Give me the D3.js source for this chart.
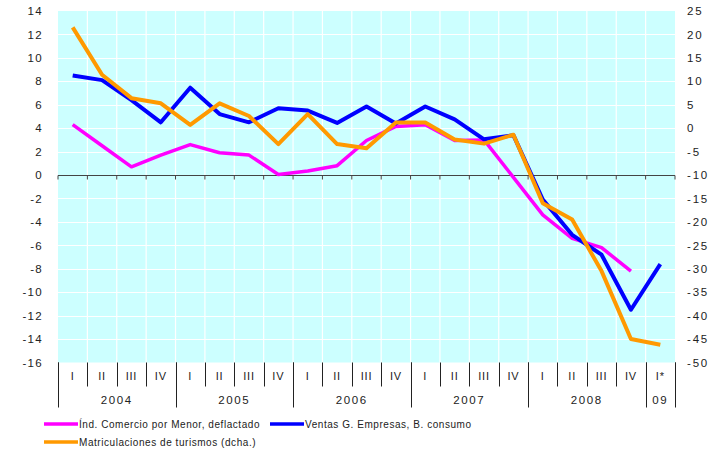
<!DOCTYPE html>
<html>
<head>
<meta charset="utf-8">
<script src="https://cdn.jsdelivr.net/npm/d3@7"></script>
<style>
  body { margin: 0; background: #fff; }
  text { font-family: "Liberation Sans", Arial, sans-serif; fill: #222; }
</style>
</head>
<body>
<div id="chart"></div>
<script>
// quarter labels and year groups
const quarters = ["I","II","III","IV","I","II","III","IV","I","II","III","IV",
                  "I","II","III","IV","I","II","III","IV","I*"];
const years = ["2004","2005","2006","2007","2008","09"];
const yearSpans = [4, 4, 4, 4, 4, 1];

// left axis series
const comercio = [4.3, 2.5, 0.7, 1.7, 2.6, 1.9, 1.7, 0.05, 0.35, 0.8, 2.95, 4.15,
                  4.3, 2.95, 3.0, -0.2, -3.4, -5.4, -6.2, -8.2, null];
const ventas = [8.5, 8.1, 6.4, 4.5, 7.45, 5.2, 4.5, 5.7, 5.5, 4.45, 5.85, 4.4,
                5.85, 4.75, 3.05, 3.4, -2.1, -5.1, -6.8, -11.5, -7.6];
// right axis series
const matriculaciones = [21.5, 11.4, 6.4, 5.3, 0.7, 5.3, 2.6, -3.4, 3.0, -3.4, -4.3, 1.2,
                         1.2, -2.4, -3.3, -1.4, -16.0, -19.5, -30.5, -45.0, -46.2];

const leftTicks = d3.range(-16, 15, 2);
const rightTicks = d3.range(-50, 26, 5);

const W = 714, H = 451;
const margin = { top: 11, right: 39, bottom: 88.5, left: 58 };

const svg = d3.select("#chart").append("svg")
  .attr("width", W).attr("height", H);

const x = d3.scaleBand()
  .domain(d3.range(quarters.length))
  .range([margin.left, W - margin.right]);

const yL = d3.scaleLinear().domain([-16, 14]).range([H - margin.bottom, margin.top]);
const yR = d3.scaleLinear().domain([-50, 25]).range([H - margin.bottom, margin.top]);

// plot background
svg.append("rect")
  .attr("x", x.range()[0]).attr("y", margin.top)
  .attr("width", x.range()[1] - x.range()[0])
  .attr("height", H - margin.bottom - margin.top)
  .attr("fill", "#ccffff");

// grid
const bounds = d3.range(quarters.length + 1).map(i => margin.left + i * x.step());
svg.append("g").selectAll("line").data(leftTicks.slice(1, -1)).join("line")
  .attr("x1", x.range()[0]).attr("x2", x.range()[1])
  .attr("y1", d => Math.round(yL(d)) + 0.5).attr("y2", d => Math.round(yL(d)) + 0.5)
  .attr("stroke", "#fff").attr("stroke-width", 1.2);
svg.append("g").selectAll("line").data(bounds.slice(1, -1)).join("line")
  .attr("x1", d => d).attr("x2", d => d)
  .attr("y1", margin.top).attr("y2", H - margin.bottom)
  .attr("stroke", "#fff").attr("stroke-width", 1.2);

// zero line with ticks
const y0 = Math.round(yL(0)) + 0.5;
svg.append("line")
  .attr("x1", x.range()[0]).attr("x2", x.range()[1])
  .attr("y1", y0).attr("y2", y0)
  .attr("stroke", "#444").attr("stroke-width", 1.2);
svg.append("g").selectAll("line").data(bounds).join("line")
  .attr("x1", d => d).attr("x2", d => d)
  .attr("y1", y0).attr("y2", y0 + 4)
  .attr("stroke", "#444").attr("stroke-width", 1);

// y axes
const axL = svg.append("g")
  .attr("transform", `translate(${margin.left},0)`)
  .call(d3.axisLeft(yL).tickValues(leftTicks).tickSize(0).tickPadding(15).tickFormat(d => d));
axL.select(".domain").remove();
axL.selectAll("text").style("font-size", "11.5px").style("letter-spacing", "1.3px")
  .style("font-family", "'Liberation Sans', Arial, sans-serif").attr("fill", "#222");

const axR = svg.append("g")
  .attr("transform", `translate(${W - margin.right},0)`)
  .call(d3.axisRight(yR).tickValues(rightTicks).tickSize(0).tickPadding(12).tickFormat(d => d));
axR.select(".domain").remove();
axR.selectAll("text").style("font-size", "11.5px").style("letter-spacing", "1.8px")
  .style("font-family", "'Liberation Sans', Arial, sans-serif").attr("fill", "#222");

// category table under the plot
const bottom = H - margin.bottom;
svg.append("g").selectAll("line").data(bounds).join("line")
  .attr("x1", d => Math.round(d) + 0.5).attr("x2", d => Math.round(d) + 0.5)
  .attr("y1", bottom).attr("y2", bottom + 24)
  .attr("stroke", "#222").attr("stroke-width", 1);
svg.append("g").selectAll("text").data(quarters).join("text")
  .attr("x", (d, i) => x(i) + x.bandwidth() / 2)
  .attr("y", bottom + 17)
  .attr("text-anchor", "middle")
  .style("font-size", "11px").style("letter-spacing", "0.8px")
  .text(d => d);

let start = 0;
const yearPos = years.map((yr, k) => {
  const s = start, e = start + yearSpans[k];
  start = e;
  return { yr, s, e };
});
svg.append("g").selectAll("line").data([0].concat(yearPos.map(d => d.e))).join("line")
  .attr("x1", d => Math.round(margin.left + d * x.step()) + 0.5)
  .attr("x2", d => Math.round(margin.left + d * x.step()) + 0.5)
  .attr("y1", bottom).attr("y2", bottom + 45)
  .attr("stroke", "#222").attr("stroke-width", 1);
svg.append("g").selectAll("text").data(yearPos).join("text")
  .attr("x", d => margin.left + (d.s + d.e) / 2 * x.step())
  .attr("y", bottom + 41)
  .attr("text-anchor", "middle")
  .style("font-size", "11.5px").style("letter-spacing", "1.6px")
  .text(d => d.yr);

// lines
const lineL = d3.line()
  .defined(d => d != null)
  .x((d, i) => x(i) + x.bandwidth() / 2)
  .y(d => yL(d));
const lineR = d3.line()
  .defined(d => d != null)
  .x((d, i) => x(i) + x.bandwidth() / 2)
  .y(d => yR(d));

svg.append("path").datum(comercio).attr("d", lineL)
  .attr("fill", "none").attr("stroke", "#ff00ff").attr("stroke-width", 3.5)
  .attr("stroke-linejoin", "round");
svg.append("path").datum(ventas).attr("d", lineL)
  .attr("fill", "none").attr("stroke", "#0000ff").attr("stroke-width", 4)
  .attr("stroke-linejoin", "round");
svg.append("path").datum(matriculaciones).attr("d", lineR)
  .attr("fill", "none").attr("stroke", "#ff9900").attr("stroke-width", 4)
  .attr("stroke-linejoin", "round");

// legend
const legend = [
  { label: "Índ. Comercio por Menor, deflactado", color: "#ff00ff", x: 44, y: 424 },
  { label: "Ventas G. Empresas, B. consumo", color: "#0000ff", x: 270, y: 424 },
  { label: "Matriculaciones de turismos (dcha.)", color: "#ff9900", x: 44, y: 442 }
];
const lg = svg.append("g").selectAll("g").data(legend).join("g")
  .attr("transform", d => `translate(${d.x},${d.y})`);
lg.append("line").attr("x1", 0).attr("x2", 34).attr("y1", 0).attr("y2", 0)
  .attr("stroke", d => d.color).attr("stroke-width", 3.5);
lg.append("text").attr("x", 35).attr("y", 3.5)
  .style("font-size", "10px").style("letter-spacing", "0.55px")
  .text(d => d.label);
</script>
</body>
</html>
